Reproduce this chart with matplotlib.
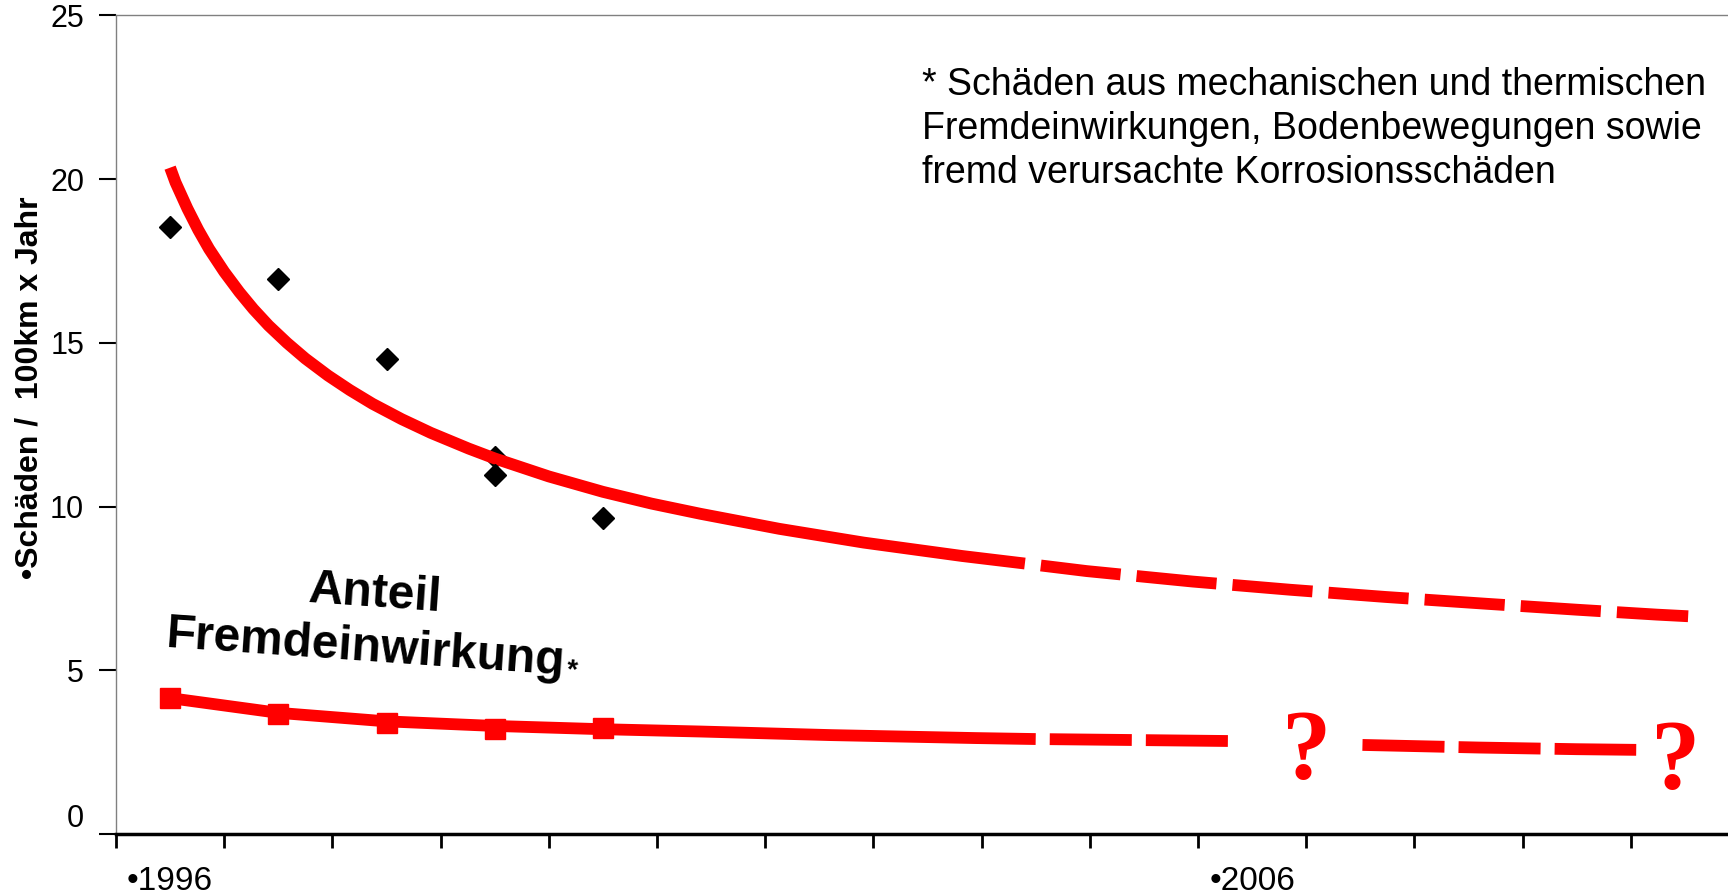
"""
Schäden / 100km x Jahr: gemessene Werte, Trend und Anteil Fremdeinwirkung.
"""
import matplotlib
matplotlib.use("Agg")
import matplotlib.pyplot as plt

plt.rcParams["font.family"] = ["Liberation Sans", "DejaVu Sans"]

# Kategorien (Jahre) und Beschriftungen
years = list(range(1996, 2011))
label_pos = [0, 10]
label_text = ["•1996", "•2006"]

# gemessene Schadensraten (Rauten)
obs_pos = [0, 1, 2, 3, 4]
obs_val = [18.55, 16.95, 14.5, 10.95, 9.65]
hidden_pos = [3]
hidden_val = [11.5]

# Trendkurve gesamt: durchgezogen, dann gestrichelt
trend_pos = [0, 0.05, 0.16, 0.26, 0.36, 0.5, 0.64, 0.77, 0.91, 1.08, 1.25,
             1.46, 1.66, 1.87, 2.14, 2.41, 2.76, 3.0, 3.5, 4.0, 4.45, 4.9,
             5.63, 6.41, 7.32, 7.9]
trend_val = [20.35, 19.9, 19.1, 18.45, 17.87, 17.17, 16.55, 16.03, 15.53,
             15.0, 14.52, 14.0, 13.56, 13.14, 12.67, 12.25, 11.77, 11.47,
             10.92, 10.45, 10.09, 9.78, 9.32, 8.90, 8.49, 8.26]
trend_dash_pos = [7.9, 8.47, 9.45, 10.35, 11.23, 12.17, 13.0, 13.74, 14.03]
trend_dash_val = [8.26, 8.03, 7.71, 7.46, 7.24, 7.03, 6.85, 6.7, 6.65]

# Anteil Fremdeinwirkung
share_pos = [0, 1, 2, 3, 4, 4.9, 6.11, 7.44, 8]
share_val = [4.15, 3.7, 3.44, 3.3, 3.2, 3.13, 3.02, 2.93, 2.90]
share_mark_pos = [0, 1, 2, 3, 4]
share_mark_val = [4.15, 3.67, 3.40, 3.20, 3.24]
share_dash1_pos = [8, 8.9, 9.78]
share_dash1_val = [2.90, 2.87, 2.84]
share_dash2_pos = [11.02, 12.1, 13.0, 13.55]
share_dash2_val = [2.72, 2.64, 2.59, 2.57]
question_pos = [10.5, 13.91]
question_val = [1.71, 1.40]

note_lines = ["* Schäden aus mechanischen und thermischen",
              "Fremdeinwirkungen, Bodenbewegungen sowie",
              "fremd verursachte Korrosionsschäden"]

RED = "#FF0000"
LW = 8.5
W, H = 1728, 896

fig = plt.figure(figsize=(W / 100, H / 100), dpi=100)
ax = fig.add_axes([116 / W, 62 / H, 1623 / W, 818.6 / H])

ax.plot(hidden_pos, hidden_val, linestyle="none", marker="D",
        markersize=11, color="black", zorder=2)
ax.plot(obs_pos, obs_val, linestyle="none", marker="D", markersize=11,
        color="black", zorder=4)

ax.plot(trend_pos, trend_val, color=RED, lw=LW, solid_capstyle="butt",
        solid_joinstyle="round", zorder=3)
ax.plot(trend_dash_pos, trend_dash_val, color=RED, lw=LW,
        linestyle=(6.8, (6.8, 1.36)), dash_capstyle="butt", zorder=3)

ax.plot(share_pos, share_val, color=RED, lw=LW, solid_capstyle="butt",
        solid_joinstyle="round", zorder=3)
ax.plot(share_mark_pos, share_mark_val, linestyle="none", marker="s",
        markersize=14, color=RED, zorder=3)
ax.plot(share_dash1_pos, share_dash1_val, color=RED, lw=LW,
        linestyle=(6.95, (6.95, 1.19)), dash_capstyle="butt", zorder=3)
ax.plot(share_dash2_pos, share_dash2_val, color=RED, lw=LW,
        linestyle=(0, (6.95, 1.19)), dash_capstyle="butt", zorder=3)
for qx, qy in zip(question_pos, question_val):
    ax.text(qx, qy, "?", color=RED, fontsize=71, fontweight="bold",
            family=["Liberation Serif", "DejaVu Serif"],
            ha="center", va="baseline", zorder=5)

ax.set_xlim(-0.5, len(years) - 0.5)
ax.set_ylim(0, 25)

ax.set_xticks([k - 0.5 for k in range(len(years) + 1)])
ax.set_xticklabels([])
ax.set_xticks(label_pos, minor=True)
ax.set_xticklabels(label_text, minor=True)
ax.tick_params(axis="x", which="major", direction="out", length=10,
               width=2, color="black")
ax.tick_params(axis="x", which="minor", length=0, pad=23, labelsize=24)

ax.set_yticks([0, 5, 10, 15, 20, 25])
ax.tick_params(axis="y", direction="out", length=12, width=1.5,
               color="black", pad=11, labelsize=22)
ax.get_yticklabels()[0].set_va("bottom")

ax.spines["right"].set_visible(False)
ax.spines["left"].set_color("#808080")
ax.spines["left"].set_linewidth(1)
ax.spines["top"].set_color("#808080")
ax.spines["top"].set_linewidth(1)
ax.spines["bottom"].set_color("black")
ax.spines["bottom"].set_linewidth(2.5)

fig.text(30 / W, 1 - 388 / H, "•Schäden /  100km x Jahr", rotation=90,
         ha="center", va="center", fontsize=23, fontweight="bold")

for k, line in enumerate(note_lines):
    fig.text(922 / W, 1 - (95 + 44 * k) / H, line, fontsize=27,
             ha="left", va="baseline")

fig.text(374 / W, 1 - 607 / H, "Anteil", fontsize=34.5, fontweight="bold",
         ha="center", va="baseline", rotation=-4, rotation_mode="anchor")
fig.text(165 / W, 1 - 647 / H, "Fremdeinwirkung", fontsize=34.5,
         fontweight="bold", ha="left", va="baseline", rotation=-4,
         rotation_mode="anchor")
fig.text(566 / W, 1 - 678 / H, "*", fontsize=20, fontweight="bold",
         ha="left", va="baseline", rotation=-4, rotation_mode="anchor")

fig.savefig("out.png", dpi=100)
plt.close(fig)
